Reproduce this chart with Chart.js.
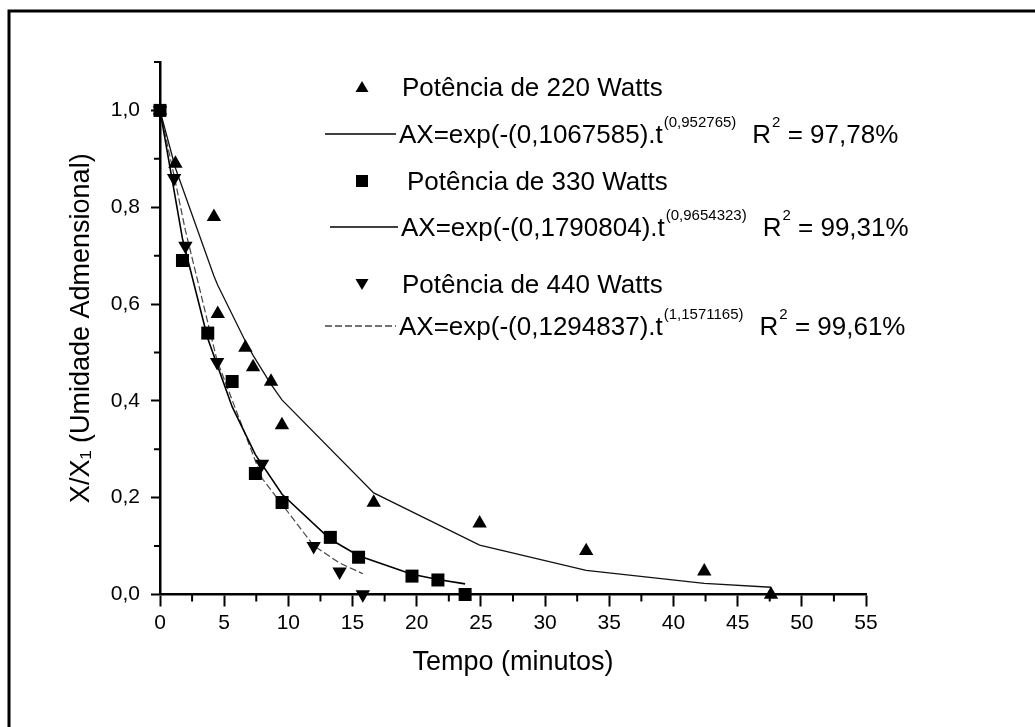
<!DOCTYPE html>
<html>
<head>
<meta charset="utf-8">
<style>
html,body{margin:0;padding:0;background:#fff;}
#wrap{position:relative;width:1035px;height:727px;}
</style>
<script src="https://cdn.jsdelivr.net/npm/chart.js@4.4.1/dist/chart.umd.min.js"></script>
</head>
<body>
<div id="wrap"><canvas id="c" width="1035" height="727"></canvas></div>
<script>
// ---- data ----
const tempo220 = [0, 1.2, 4.2, 4.5, 6.65, 7.25, 8.65, 9.5, 16.65, 24.9, 33.2, 42.4, 47.6];
const umid220  = [1.0, 0.89, 0.78, 0.58, 0.51, 0.47, 0.44, 0.35, 0.19, 0.147, 0.09, 0.048, 0.0];
const ajuste220 = [1.0, 0.881, 0.658, 0.639, 0.523, 0.494, 0.434, 0.402, 0.210, 0.102, 0.050, 0.023, 0.015];

const tempo330 = [0, 1.75, 3.72, 5.62, 7.43, 9.51, 13.27, 15.47, 19.63, 21.65, 23.77];
const umid330  = [1.0, 0.69, 0.54, 0.44, 0.25, 0.19, 0.118, 0.077, 0.038, 0.030, 0.0];
const ajuste330 = [1.0, 0.735, 0.529, 0.388, 0.289, 0.207, 0.114, 0.080, 0.042, 0.031, 0.022];

const tempo440 = [0, 1.1, 1.98, 4.45, 7.95, 11.97, 13.99, 15.8];
const umid440  = [1.0, 0.86, 0.72, 0.48, 0.27, 0.10, 0.047, 0.0];
const ajuste440 = [1.0, 0.865, 0.752, 0.483, 0.240, 0.101, 0.065, 0.043];

const xTickValues = [0, 5, 10, 15, 20, 25, 30, 35, 40, 45, 50, 55];
const xMinorTicks = [2.5, 7.5, 12.5, 17.5, 22.5, 27.5, 32.5, 37.5, 42.5, 47.5, 52.5];
const yTickValues = [0, 0.2, 0.4, 0.6, 0.8, 1.0];
const yMinorTicks = [0.1, 0.3, 0.5, 0.7, 0.9, 1.1];

const legendRows = [
  {type:'tri',  text:'Potência de 220 Watts'},
  {type:'line', text:'AX=exp(-(0,1067585).t', sup:'(0,952765)', r2:' = 97,78%', dash:[], color:'#000'},
  {type:'sq',   text:'Potência de 330 Watts'},
  {type:'line', text:'AX=exp(-(0,1790804).t', sup:'(0,9654323)', r2:' = 99,31%', dash:[], color:'#000'},
  {type:'itri', text:'Potência de 440 Watts'},
  {type:'line', text:'AX=exp(-(0,1294837).t', sup:'(1,1571165)', r2:' = 99,61%', dash:[7,3], color:'#444'}
];

const FONT = '"Liberation Sans", Arial, Helvetica, sans-serif';
const toPts = (xs, ys) => xs.map((v, i) => ({x: v, y: ys[i]}));

const deco = {
  id: 'deco',
  afterDraw(chart) {
    const ctx = chart.ctx;
    const xs = chart.scales.x, ys = chart.scales.y;
    const a = chart.chartArea;
    ctx.save();
    ctx.strokeStyle = '#000';
    ctx.lineWidth = 2;
    ctx.beginPath();
    xMinorTicks.forEach(v => {
      const px = xs.getPixelForValue(v);
      ctx.moveTo(px, a.bottom); ctx.lineTo(px, a.bottom + 7);
    });
    yMinorTicks.forEach(v => {
      const py = ys.getPixelForValue(v);
      ctx.moveTo(a.left, py); ctx.lineTo(a.left - 6, py);
    });
    ctx.stroke();

    // outer frame (left + top)
    ctx.lineWidth = 3;
    ctx.beginPath();
    ctx.moveTo(9, 727); ctx.lineTo(9, 11); ctx.lineTo(1035, 11);
    ctx.stroke();

    // legend
    const rowY = [87, 134, 181, 227, 284, 326];
    const fs = 26, sfs = 15;
    ctx.fillStyle = '#000';
    legendRows.forEach((r, i) => {
      const c = rowY[i];
      const base = c + 0.358 * fs;
      ctx.font = fs + 'px ' + FONT;
      ctx.textBaseline = 'alphabetic';
      ctx.textAlign = 'left';
      if (r.type === 'line') {
        ctx.save();
        ctx.strokeStyle = r.color; ctx.lineWidth = 1.5; ctx.setLineDash(r.dash);
        ctx.beginPath(); ctx.moveTo(i === 3 ? 330 : 325, c); ctx.lineTo(i === 3 ? 398 : 396, c); ctx.stroke();
        ctx.restore();
        let x0 = i === 3 ? 401 : 399;
        ctx.fillText(r.text, x0, base);
        x0 += ctx.measureText(r.text).width + 1;
        ctx.font = sfs + 'px ' + FONT;
        ctx.fillText(r.sup, x0, c - 7);
        x0 += ctx.measureText(r.sup).width + 16;
        ctx.font = fs + 'px ' + FONT;
        ctx.fillText('R', x0, base);
        x0 += ctx.measureText('R').width + 1;
        ctx.font = sfs + 'px ' + FONT;
        ctx.fillText('2', x0, c - 7);
        x0 += ctx.measureText('2').width;
        ctx.font = fs + 'px ' + FONT;
        ctx.fillText(r.r2, x0, base);
      } else {
        const mx = 362;
        ctx.beginPath();
        if (r.type === 'tri') {
          ctx.moveTo(mx, c - 6); ctx.lineTo(mx + 6.5, c + 5); ctx.lineTo(mx - 6.5, c + 5);
        } else if (r.type === 'itri') {
          ctx.moveTo(mx, c + 6); ctx.lineTo(mx + 6.5, c - 5); ctx.lineTo(mx - 6.5, c - 5);
        } else {
          ctx.rect(mx - 6, c - 6, 12, 12);
        }
        ctx.closePath(); ctx.fill();
        ctx.fillText(r.text, r.type === 'sq' ? 407 : 402, base);
      }
    });
    ctx.restore();
  }
};

const markerDs = (label, xs, ys, style, rot, rad) => ({
  label, data: toPts(xs, ys), showLine: false,
  pointStyle: style, rotation: rot, pointRadius: rad,
  pointBackgroundColor: '#000', pointBorderColor: '#000', pointBorderWidth: 0,
  clip: false
});
const fitDs = (label, xs, ys, color, dash, w) => ({
  label, data: toPts(xs, ys), showLine: true, pointRadius: 0,
  borderColor: color, borderWidth: w, borderDash: dash, tension: 0, fill: false, clip: false
});

new Chart(document.getElementById('c'), {
  type: 'scatter',
  data: {
    datasets: [
      markerDs('Potência de 220 Watts', tempo220, umid220, 'triangle', 0, 8.3),
      markerDs('Potência de 330 Watts', tempo330, umid330, 'rect', 0, 9.2),
      markerDs('Potência de 440 Watts', tempo440, umid440, 'triangle', 180, 8.3),
      fitDs('Ajuste 220', tempo220, ajuste220, '#111', [], 1.3),
      fitDs('Ajuste 330', tempo330, ajuste330, '#000', [], 1.6),
      fitDs('Ajuste 440', tempo440, ajuste440, '#444', [7, 3], 1.2)
    ]
  },
  options: {
    responsive: false,
    animation: false,
    devicePixelRatio: 1,
    layout: {padding: {left: 0, top: 62, right: 169, bottom: 0}},
    plugins: {legend: {display: false}, tooltip: {enabled: false}},
    scales: {
      x: {
        type: 'linear', min: 0, max: 55,
        afterFit: s => { s.height = 132.5; },
        afterBuildTicks: s => { s.ticks = xTickValues.map(v => ({value: v})); },
        border: {display: true, color: '#000', width: 2.5},
        grid: {display: true, drawOnChartArea: false, drawTicks: true, tickLength: 12, tickColor: '#000', tickWidth: 2},
        ticks: {color: '#000', font: {family: FONT, size: 21}, padding: 4, maxRotation: 0, autoSkip: false,
                callback: v => String(v)},
        title: {display: true, text: 'Tempo (minutos)', color: '#000', font: {family: FONT, size: 27},
                padding: {top: 0, bottom: 48}}
      },
      y: {
        type: 'linear', min: 0, max: 1.1,
        afterFit: s => { s.width = 160; },
        afterBuildTicks: s => { s.ticks = yTickValues.map(v => ({value: v})); },
        border: {display: true, color: '#000', width: 2.5},
        grid: {display: true, drawOnChartArea: false, drawTicks: true, tickLength: 9, tickColor: '#000', tickWidth: 2},
        ticks: {color: '#000', font: {family: FONT, size: 21}, padding: 11,
                callback: v => v.toFixed(1).replace('.', ',')},
        title: {display: true, text: 'X/X\u2081 (Umidade Admensional)', color: '#000', font: {family: FONT, size: 27},
                padding: {top: 65, bottom: 0}}
      }
    }
  },
  plugins: [deco]
});
</script>
</body>
</html>
